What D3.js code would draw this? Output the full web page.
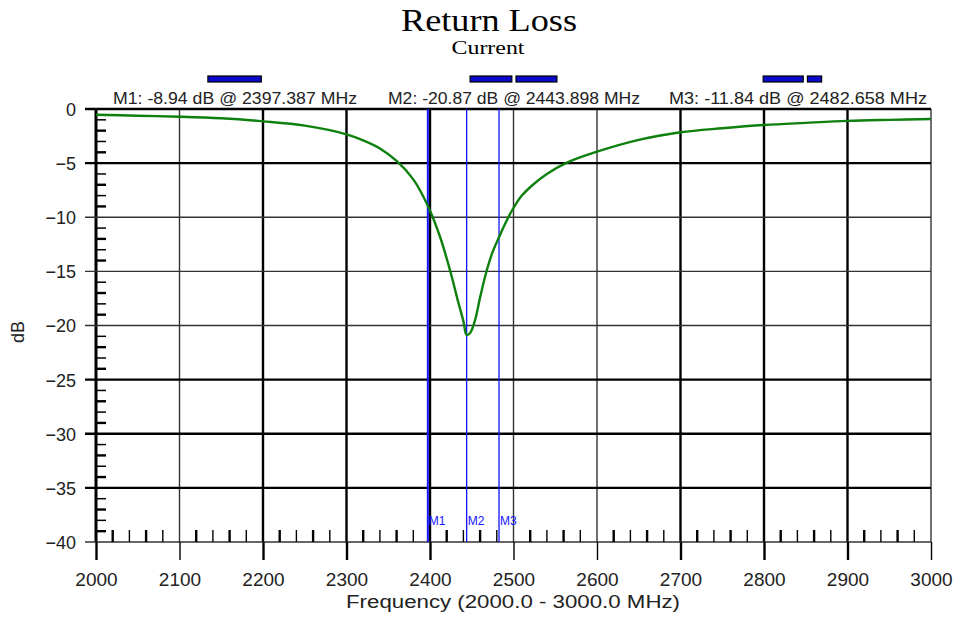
<!DOCTYPE html>
<html>
  <head>
    <meta charset="utf-8">
    <title>Return Loss</title>
    <script src="https://cdn.jsdelivr.net/npm/d3@7"></script>
    <style media="screen">
    body {margin:0; background:#fff;}
    #svg1 {display:block; background:#fff;}
    </style>
    <script>
    // data
    var freq=[2000,2050,2100,2150,2200,2250,2300,2320,2340,2360,2380,2397.387,2412,2424,2434,2440,2443.898,2448,2454,2460,2468,2475,2482.658,2490,2498,2510,2524,2540,2564,2600,2650,2700,2750,2800,2850,2900,2950,3000];
    var db=[-0.53,-0.62,-0.71,-0.86,-1.14,-1.54,-2.34,-2.9,-3.65,-4.8,-6.5,-8.94,-11.8,-14.9,-17.9,-19.6,-20.87,-20.7,-19.5,-17.4,-14.9,-13.2,-11.84,-10.6,-9.4,-8.0,-6.95,-6.0,-4.95,-3.94,-2.85,-2.15,-1.78,-1.48,-1.28,-1.1,-1.0,-0.92];

    var markerNames=['M1','M2','M3'];
    var markerFreq=[2397.387,2443.898,2482.658];
    var markerDb=[-8.94,-20.87,-11.84];

    var bandStart=[2134,2448,2503,2799,2852];
    var bandEnd=[2198,2498,2552,2847,2869];

    var xTicks=[2000,2100,2200,2300,2400,2500,2600,2700,2800,2900,3000];
    var yTicks=[0,-5,-10,-15,-20,-25,-30,-35,-40];

    window.onload=function (){
      var svg=d3.select('#svg1');
      var left=96, right=931, top=109, bottom=542;

      var x=d3.scaleLinear().domain([2000,3000]).range([left,right]);
      var y=d3.scaleLinear().domain([0,-40]).range([top,bottom]);

      // thinner grid lines (look of the original)
      var thinX=[2100,2500,2600,3000];
      var thinY=[-10,-15,-20,-40];

      // titles
      svg.append('text').attr('x',489).attr('y',31)
        .attr('text-anchor','middle')
        .style('font-family','"Liberation Serif", "Times New Roman", serif')
        .style('font-size','32px')
        .attr('textLength',176).attr('lengthAdjust','spacingAndGlyphs')
        .text('Return Loss');
      svg.append('text').attr('x',488).attr('y',54)
        .attr('text-anchor','middle')
        .style('font-family','"Liberation Serif", "Times New Roman", serif')
        .style('font-size','19px')
        .attr('textLength',73).attr('lengthAdjust','spacingAndGlyphs')
        .text('Current');

      // grid
      var grid=svg.append('g');
      grid.selectAll('line.gx').data(xTicks).enter().append('line')
        .attr('x1',d=>x(d)).attr('x2',d=>x(d))
        .attr('y1',top).attr('y2',bottom)
        .attr('stroke',d=>thinX.indexOf(d)>=0?'#333':'#000')
        .attr('stroke-width',d=>d==2000?3:(thinX.indexOf(d)>=0?1.4:2.4));
      grid.selectAll('line.gy').data(yTicks).enter().append('line')
        .attr('x1',left-11).attr('x2',right)
        .attr('y1',d=>y(d)).attr('y2',d=>y(d))
        .attr('stroke',d=>thinY.indexOf(d)>=0?'#333':'#000')
        .attr('stroke-width',d=>thinY.indexOf(d)>=0?1.4:2.4);

      // axes
      var xAxis=svg.append('g').attr('transform','translate(0,'+bottom+')')
        .call(d3.axisBottom(x).tickValues(xTicks).tickSize(18).tickFormat(d3.format('d')));
      xAxis.select('.domain').remove();
      xAxis.selectAll('.tick line').attr('stroke','#000')
        .attr('stroke-width',d=>thinX.indexOf(d)>=0?1.4:2.4);
      xAxis.selectAll('.tick text').attr('y',44).attr('dy',0)
        .style('font-family','Arial, "Liberation Sans", sans-serif')
        .style('font-size','19px').attr('fill','#222');

      var yAxis=svg.append('g').attr('transform','translate('+left+',0)')
        .call(d3.axisLeft(y).tickValues(yTicks).tickSize(0).tickPadding(20));
      yAxis.select('.domain').remove();
      yAxis.selectAll('.tick text').attr('dy','0.36em')
        .style('font-family','Arial, "Liberation Sans", sans-serif')
        .style('font-size','18px').attr('fill','#222');

      // minor ticks
      var minorY=d3.range(-1,-40,-1).filter(d=>d%5!=0);
      svg.append('g').selectAll('line').data(minorY).enter().append('line')
        .attr('x1',left).attr('x2',left+10)
        .attr('y1',d=>y(d)).attr('y2',d=>y(d))
        .attr('stroke','#000').attr('stroke-width',(d,i)=>i%2?2.4:1.5);
      var minorX=d3.range(2020,3000,20).filter(d=>d%100!=0);
      svg.append('g').selectAll('line').data(minorX).enter().append('line')
        .attr('x1',d=>x(d)).attr('x2',d=>x(d))
        .attr('y1',bottom).attr('y2',bottom-12)
        .attr('stroke','#000').attr('stroke-width',(d,i)=>i%2?1.4:2.4);

      // marker lines
      var mk=svg.append('g');
      mk.selectAll('line').data(markerFreq).enter().append('line')
        .attr('x1',d=>x(d)).attr('x2',d=>x(d))
        .attr('y1',top).attr('y2',bottom)
        .attr('stroke','#1414ff').attr('stroke-width',(d,i)=>i==0?2:1.3);
      mk.selectAll('text').data(markerFreq).enter().append('text')
        .attr('x',d=>x(d)+1).attr('y',525)
        .style('font-family','Arial, "Liberation Sans", sans-serif')
        .style('font-size','12px').attr('fill','#1414ff')
        .text((d,i)=>markerNames[i]);

      // marker readouts
      var labelX=[113,388,669];
      var labelW=[244,252,258];
      svg.append('g').selectAll('text').data(markerNames).enter().append('text')
        .attr('x',(d,i)=>labelX[i]).attr('y',104)
        .style('font-family','Arial, "Liberation Sans", sans-serif')
        .style('font-size','16px').attr('fill','#222')
        .attr('textLength',(d,i)=>labelW[i]).attr('lengthAdjust','spacingAndGlyphs')
        .text((d,i)=>d+': '+markerDb[i].toFixed(2)+' dB @ '+markerFreq[i].toFixed(3)+' MHz');

      // bands above readouts
      svg.append('g').selectAll('rect').data(bandStart).enter().append('rect')
        .attr('x',d=>x(d)).attr('y',76)
        .attr('width',(d,i)=>x(bandEnd[i])-x(d)).attr('height',6)
        .attr('fill','#0a0acc').attr('stroke','#000').attr('stroke-width',1.2);

      // curve
      var line=d3.line().x((d,i)=>x(freq[i])).y(d=>y(d)).curve(d3.curveCatmullRom.alpha(0.5));
      svg.append('path').attr('d',line(db))
        .attr('fill','none').attr('stroke','#0d800d').attr('stroke-width',2.4);

      // axis titles
      svg.append('text').attr('x',513).attr('y',608)
        .attr('text-anchor','middle')
        .style('font-family','Arial, "Liberation Sans", sans-serif')
        .style('font-size','18px').attr('fill','#222')
        .attr('textLength',334).attr('lengthAdjust','spacingAndGlyphs')
        .text('Frequency (2000.0 - 3000.0 MHz)');
      svg.append('text')
        .attr('transform','translate(24,332) rotate(-90)')
        .attr('text-anchor','middle')
        .style('font-family','Arial, "Liberation Sans", sans-serif')
        .style('font-size','18px').attr('fill','#222')
        .text('dB');
    };
    </script>
  </head>
  <body>
    <svg id="svg1" width="960" height="617"></svg>
  </body>
</html>
